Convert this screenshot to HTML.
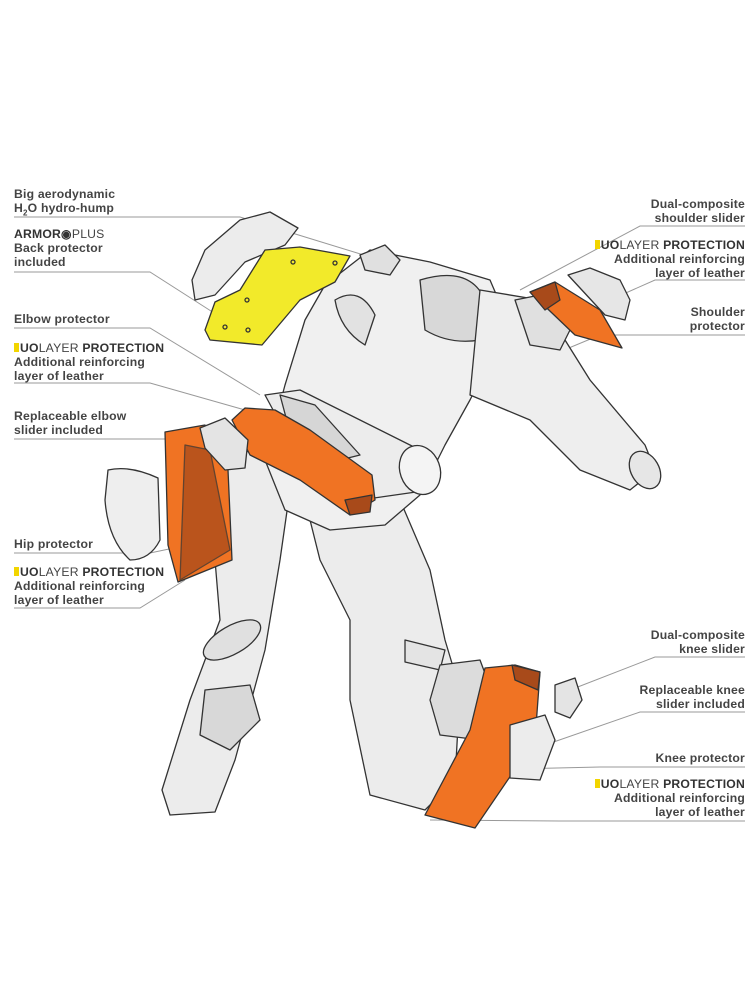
<!DOCTYPE html>
<html><head><meta charset="utf-8"><style>
html,body{margin:0;padding:0;background:#fff;}
body{width:750px;height:1000px;position:relative;overflow:hidden;font-family:"Liberation Sans",sans-serif;}
.t{position:absolute;font-size:12.2px;font-weight:bold;color:#444;line-height:14px;letter-spacing:0.2px;}
.l{left:14px;}
.r{right:5px;text-align:right;}
.d b{font-weight:bold;color:#333}
.d span{font-weight:normal;color:#444}
.y{display:inline-block;width:5px;height:9px;background:#f2d500;margin-right:1px;}
svg{position:absolute;left:0;top:0;}
</style></head><body>
<svg width="750" height="1000" viewBox="0 0 750 1000">
<g stroke="#999" stroke-width="1" fill="none">
<polyline points="14,217 240,217 380,260"/>
<polyline points="14,272 150,272 225,320"/>
<polyline points="14,328 150,328 260,395"/>
<polyline points="14,383 150,383 245,410"/>
<polyline points="14,439 200,439 225,445"/>
<polyline points="14,553 150,553 260,530"/>
<polyline points="14,608 140,608 185,580"/>
<polyline points="745,226 640,226 520,290"/>
<polyline points="745,280 655,280 610,300"/>
<polyline points="745,335 600,335 540,360"/>
<polyline points="745,657 655,657 570,690"/>
<polyline points="745,712 640,712 545,745"/>
<polyline points="745,767 600,767 470,770"/>
<polyline points="745,821 560,821 430,820"/>
</g>
<g stroke="#333" stroke-width="1.3" stroke-linejoin="round">
<path d="M225,450 L295,455 L280,560 L265,650 L235,760 L215,812 L170,815 L162,790 L190,700 L220,620 L215,560 Z" fill="#ececec"/>
<path d="M310,520 L400,500 L430,570 L445,640 L460,690 L455,780 L425,810 L370,795 L350,700 L350,620 L320,560 Z" fill="#ececec"/>
<ellipse cx="232" cy="640" rx="32" ry="14" fill="#e0e0e0" transform="rotate(-30 232 640)"/>
<path d="M205,690 L250,685 L260,720 L230,750 L200,735 Z" fill="#d8d8d8"/>
<path d="M405,640 L445,650 L440,670 L405,662 Z" fill="#e4e4e4"/>
<path d="M325,285 L370,250 L430,262 L490,280 L505,315 L490,360 L470,400 L445,445 L420,495 L385,525 L330,530 L285,510 L265,460 L285,385 L305,320 Z" fill="#f0f0f0"/>
<path d="M420,280 Q470,265 485,300 L480,340 Q450,345 425,330 Z" fill="#d8d8d8"/>
<path d="M335,300 Q360,285 375,315 L365,345 Q340,330 335,300 Z" fill="#e2e2e2"/>
<path d="M480,290 L540,300 L590,380 L645,445 L655,470 L630,490 L580,470 L530,420 L470,395 Z" fill="#eeeeee"/>
<ellipse cx="645" cy="470" rx="14" ry="20" fill="#e6e6e6" transform="rotate(-30 645 470)"/>
<path d="M195,300 L192,280 L205,250 L240,220 L270,212 L298,228 L285,245 L245,262 L215,295 Z" fill="#ececec"/>
<path d="M205,330 L215,302 L240,290 L265,250 L300,247 L350,256 L335,282 L300,300 L262,345 L210,340 Z" fill="#f2ea2a"/>
<g fill="none"><circle cx="225" cy="327" r="2"/><circle cx="248" cy="330" r="2"/><circle cx="247" cy="300" r="2"/><circle cx="293" cy="262" r="2"/><circle cx="335" cy="263" r="2"/></g>
<path d="M568,275 L590,268 L620,280 L630,300 L625,320 L605,315 Z" fill="#e6e6e6"/>
<path d="M515,300 L540,295 L570,330 L560,350 L530,345 Z" fill="#e0e0e0"/>
<path d="M530,292 L555,282 L600,310 L622,348 L575,335 Z" fill="#f07323"/>
<path d="M530,292 L555,282 L560,300 L545,310 Z" fill="#a84a1a"/>
<path d="M360,255 L385,245 L400,260 L390,275 L365,270 Z" fill="#e0e0e0"/>
<path d="M108,470 Q130,465 158,478 L160,540 Q150,560 130,560 Q108,540 105,500 Z" fill="#eeeeee"/>
<path d="M165,432 L205,425 L228,470 L232,560 L178,582 L168,545 Z" fill="#f07323"/>
<path d="M185,445 L210,450 L230,550 L180,580 Z" fill="#a84a1a" opacity="0.75"/>
<path d="M265,395 L300,390 L430,455 L430,490 L360,500 L300,460 Z" fill="#ececec"/>
<ellipse cx="420" cy="470" rx="20" ry="25" fill="#f4f4f4" transform="rotate(-20 420 470)"/>
<path d="M280,395 L315,405 L360,455 L300,470 Z" fill="#d6d6d6"/>
<path d="M232,420 L245,408 L275,410 L310,430 L372,475 L375,500 L350,515 L300,480 L250,455 Z" fill="#f07323"/>
<path d="M345,500 L372,495 L370,512 L350,515 Z" fill="#a84a1a"/>
<path d="M200,428 L225,418 L248,440 L245,468 L225,470 L205,448 Z" fill="#e4e4e4"/>
<path d="M440,665 L480,660 L495,700 L480,740 L440,735 L430,700 Z" fill="#dcdcdc"/>
<path d="M485,668 L515,665 L540,672 L535,740 L475,828 L425,815 L470,730 Z" fill="#f07323"/>
<path d="M512,665 L540,672 L538,690 L515,680 Z" fill="#a84a1a"/>
<path d="M555,685 L575,678 L582,700 L570,718 L555,712 Z" fill="#e4e4e4"/>
<path d="M510,725 L545,715 L555,740 L540,780 L510,778 Z" fill="#ececec"/>
</g>
</svg>
<div class="t l" style="top:187px">Big aerodynamic<br>H<sub style="font-size:8px;line-height:0">2</sub>O hydro-hump</div>
<div class="t l d" style="top:227px"><b>ARMOR&#9673;</b><span>PLUS</span><br>Back protector<br>included</div>
<div class="t l" style="top:312px">Elbow protector</div>
<div class="t l d" style="top:341px"><span class="y"></span><b>UO</b><span>LAYER</span> <b>PROTECTION</b><br>Additional reinforcing<br>layer of leather</div>
<div class="t l" style="top:409px">Replaceable elbow<br>slider included</div>
<div class="t l" style="top:537px">Hip protector</div>
<div class="t l d" style="top:565px"><span class="y"></span><b>UO</b><span>LAYER</span> <b>PROTECTION</b><br>Additional reinforcing<br>layer of leather</div>
<div class="t r" style="top:197px">Dual-composite<br>shoulder slider</div>
<div class="t r d" style="top:238px"><span class="y"></span><b>UO</b><span>LAYER</span> <b>PROTECTION</b><br>Additional reinforcing<br>layer of leather</div>
<div class="t r" style="top:305px">Shoulder<br>protector</div>
<div class="t r" style="top:628px">Dual-composite<br>knee slider</div>
<div class="t r" style="top:683px">Replaceable knee<br>slider included</div>
<div class="t r" style="top:751px">Knee protector</div>
<div class="t r d" style="top:777px"><span class="y"></span><b>UO</b><span>LAYER</span> <b>PROTECTION</b><br>Additional reinforcing<br>layer of leather</div>
</body></html>
